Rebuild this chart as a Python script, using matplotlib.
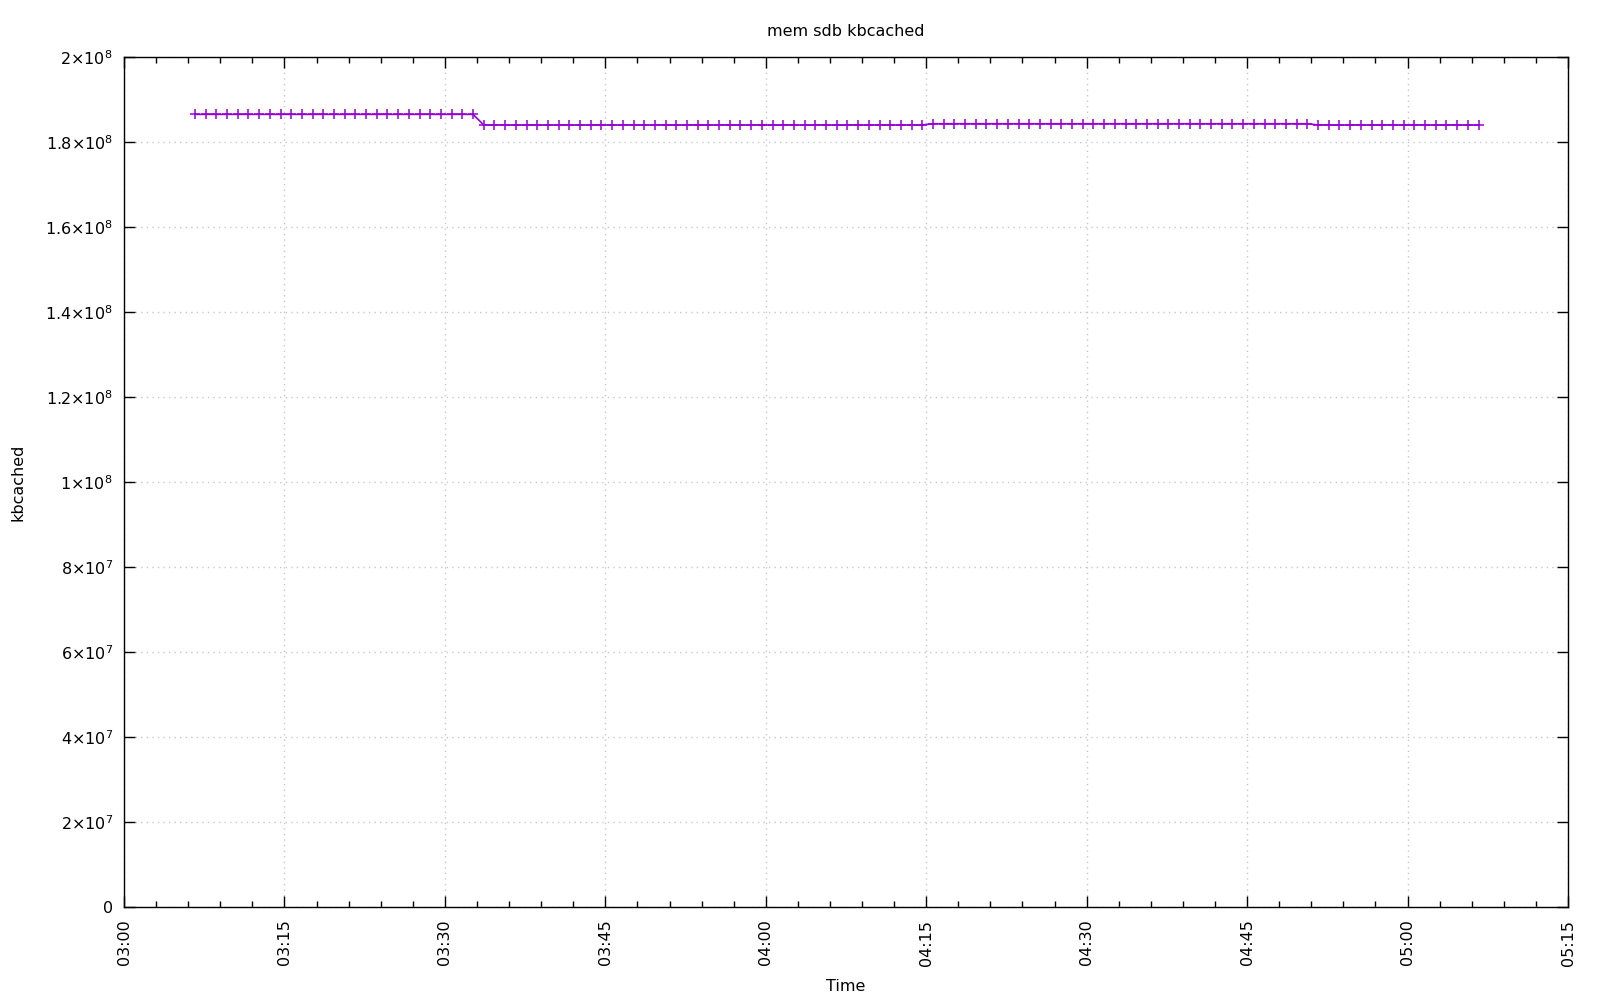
import numpy as np
import pandas as pd
import matplotlib
matplotlib.use("Agg")
import matplotlib.pyplot as plt
import matplotlib.dates as mdates
from matplotlib.ticker import FixedLocator, FuncFormatter

# samples every minute, starting 03:06:38
start = "2000-01-01 03:06:38"
n_points = 121

# kbcached level and how many samples stay at it
levels = [1.865e8, 1.840e8, 1.843e8, 1.840e8]
run_lengths = [27, 42, 36, 16]

times = pd.date_range(start, periods=n_points, freq="1min")
values = np.repeat(levels, run_lengths)

plt.rcParams["font.family"] = ["DejaVu Sans"]
plt.rcParams["font.size"] = 11.5

fig = plt.figure(figsize=(16, 10), dpi=100)
ax = fig.add_axes([0.0775, 0.093, 0.9025, 0.85])

ax.plot(times, values, color="#9400d3", lw=1.2, marker="+", ms=7, mew=1.1)

ax.set_xlim(pd.Timestamp("2000-01-01 03:00"), pd.Timestamp("2000-01-01 05:15"))
ax.set_ylim(0, 2e8)

ax.xaxis.set_major_locator(mdates.MinuteLocator(byminute=range(0, 60, 15)))
ax.xaxis.set_minor_locator(mdates.MinuteLocator(byminute=range(0, 60, 3)))
ax.xaxis.set_major_formatter(mdates.DateFormatter("%H:%M"))
plt.setp(ax.get_xticklabels(), rotation=90)

yt = np.arange(0, 2.01e8, 2e7)
ax.yaxis.set_major_locator(FixedLocator(yt))


def sci(v, pos):
    if v == 0:
        return "0"
    e = int(np.floor(np.log10(v) + 1e-9))
    m = "%g" % (v / 10 ** e)
    return r"$%s{\times}10^{%d}$" % (m, e)


ax.yaxis.set_major_formatter(FuncFormatter(sci))

ax.tick_params(which="both", direction="in", top=True, right=True, color="black")
ax.tick_params(which="major", length=8, width=1)
ax.tick_params(which="minor", length=4, width=1)
ax.tick_params(axis="x", pad=9)
ax.tick_params(axis="y", pad=8)

ax.grid(True, which="major", color="#c8c8c8", ls=(0, (1, 3)), lw=1)

for s in ax.spines.values():
    s.set_linewidth(1)

ax.set_title("mem sdb kbcached", fontsize=11.5, pad=15)
ax.set_xlabel("Time", va="center")
ax.xaxis.set_label_coords(0.5, -0.093)
ax.set_ylabel("kbcached", va="center")
ax.yaxis.set_label_coords(-0.0734, 0.5)

fig.savefig("out.png")
